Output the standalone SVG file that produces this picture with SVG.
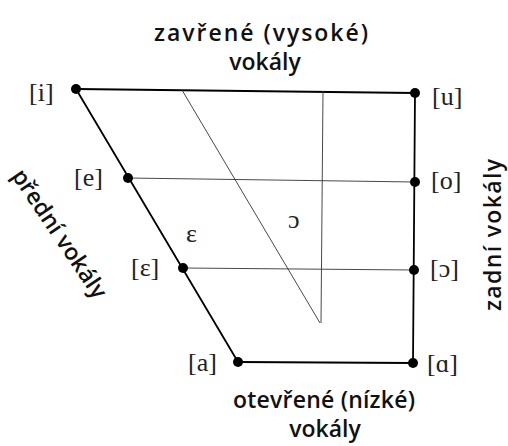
<svg xmlns="http://www.w3.org/2000/svg" width="508" height="446" viewBox="0 0 508 446">
<style>
.bg{fill:#fff}
.edge{stroke:#000;stroke-width:1.8;fill:none;stroke-linecap:round}
.thin{stroke:#333;stroke-width:0.9;fill:none}
.dot{fill:#000}
.ipa{font-family:"Liberation Serif","DejaVu Serif",serif;font-size:26px;fill:#222}
.lab{font-family:"Open Sans","Noto Sans",sans-serif;font-size:23px;font-weight:600;fill:#111}
</style>
<rect class="bg" x="0" y="0" width="508" height="446"/>
<g id="connectors">
  <line class="edge" x1="76" y1="89" x2="415" y2="93"/>
  <line class="edge" x1="76" y1="89" x2="238" y2="362"/>
  <line class="edge" x1="415" y1="93" x2="413" y2="363"/>
  <line class="edge" x1="238" y1="362" x2="413" y2="363"/>
  <line class="thin" x1="128" y1="178" x2="415" y2="182"/>
  <line class="thin" x1="183" y1="268" x2="414" y2="270"/>
  <line class="thin" x1="182" y1="90" x2="320" y2="323"/>
  <line class="thin" x1="323" y1="91" x2="321" y2="323"/>
</g>
<g id="node-i"><circle class="dot" cx="76" cy="89" r="5"/><text class="ipa" x="29" y="101">[i]</text></g>
<g id="node-u"><circle class="dot" cx="415" cy="93" r="5"/><text class="ipa" x="432" y="105">[u]</text></g>
<g id="node-e"><circle class="dot" cx="128" cy="178" r="5"/><text class="ipa" x="74" y="186">[e]</text></g>
<g id="node-o"><circle class="dot" cx="415" cy="182" r="5"/><text class="ipa" x="431" y="189">[o]</text></g>
<g id="node-eps"><circle class="dot" cx="183" cy="268" r="5"/><text class="ipa" x="131" y="276">[ε]</text></g>
<g id="node-openo"><circle class="dot" cx="414" cy="270" r="5"/><text class="ipa" x="430" y="277">[ɔ]</text></g>
<g id="node-a"><circle class="dot" cx="238" cy="362" r="5"/><text class="ipa" x="188" y="371">[a]</text></g>
<g id="node-alpha"><circle class="dot" cx="413" cy="363" r="5"/><text class="ipa" x="427" y="372">[ɑ]</text></g>
<g id="label-eps"><text class="ipa" x="186" y="242">ε</text></g>
<g id="label-openo"><text class="ipa" x="288" y="228">ɔ</text></g>
<g id="title-top">
  <text class="lab" x="261" y="41" text-anchor="middle" textLength="214">zavřené (vysoké)</text>
  <text class="lab" x="265" y="70" text-anchor="middle">vokály</text>
</g>
<g id="title-bottom">
  <text class="lab" x="324" y="408" text-anchor="middle" textLength="182">otevřené (nízké)</text>
  <text class="lab" x="325" y="437" text-anchor="middle">vokály</text>
</g>
<g id="title-left">
  <text class="lab" transform="translate(53,238) rotate(56)" text-anchor="middle">přední vokály</text>
</g>
<g id="title-right">
  <text class="lab" transform="translate(501,235) rotate(-90)" text-anchor="middle" textLength="152">zadní vokály</text>
</g>
</svg>
